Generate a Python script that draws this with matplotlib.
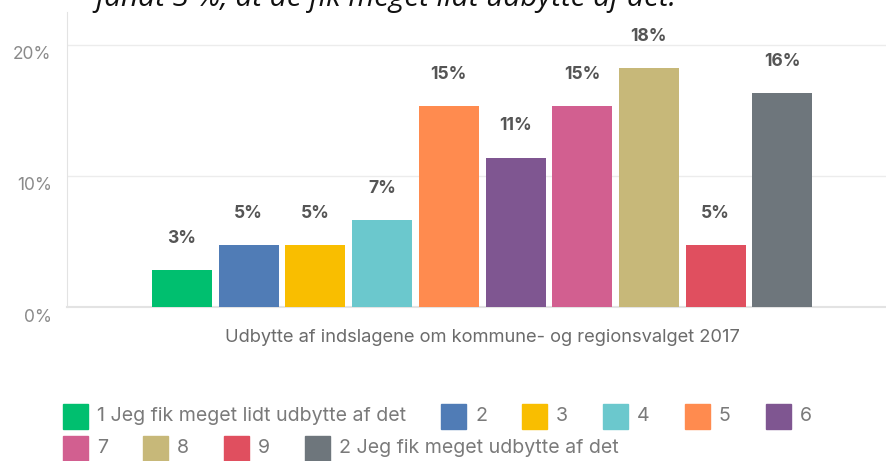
import numpy as np
import matplotlib
matplotlib.use("Agg")
import matplotlib.pyplot as plt
from matplotlib.patches import Rectangle
from matplotlib.transforms import ScaledTranslation

# Survey answers, scale 1-10
categories = ["1 Jeg fik meget lidt udbytte af det", "2", "3", "4", "5", "6",
              "7", "8", "9", "2 Jeg fik meget udbytte af det"]
shares = [2.8, 4.7, 4.7, 6.6, 15.3, 11.4, 15.3, 18.2, 4.7, 16.3]
colors = ["#00bf6f", "#507cb6", "#f9be00", "#6bc8cd", "#ff8b4f",
          "#7f5691", "#d25f90", "#c7b879", "#e04f5f", "#6e767c"]
yticks = [0, 10, 20]
ytick_labels = ["0%", "10%", "20%"]
xlabel = "Udbytte af indslagene om kommune- og regionsvalget 2017"
caption = "fandt 3 %, at de fik meget lidt udbytte af det."

W, H = 886, 461
plt.rcParams['font.family'] = ['Inter', 'DejaVu Sans']

fig = plt.figure(figsize=(W / 100, H / 100), dpi=100)
ax = fig.add_axes([67 / W, 1 - 307 / H, 1 - 67 / W, (307 - 12) / H])

x = np.arange(len(shares))
ax.bar(x, shares, width=0.9, color=colors, zorder=3)
for xi, v in zip(x, shares):
    ax.annotate(f"{v:.0f}%", (xi, v), xytext=(0, 23), textcoords="offset points",
                ha="center", va="center", fontsize=12.5, fontweight="bold",
                color="#555555")

ax.set_xlim(-1.725, 10.555)
ax.set_ylim(0, 22.5)
ax.set_xticks([])
ax.set_yticks(yticks)
ax.set_yticklabels(ytick_labels, fontsize=12.5, color="#8a8a8a")
ax.tick_params(axis="y", length=0, pad=11)
offset = ScaledTranslation(0, -8 / 100, fig.dpi_scale_trans)
for lab in ax.get_yticklabels():
    lab.set_transform(lab.get_transform() + offset)
ax.grid(axis="y", color="#ececec", linewidth=1, zorder=0)
for side in ["top", "right"]:
    ax.spines[side].set_visible(False)
ax.spines["left"].set_color("#e3e3e3")
ax.spines["bottom"].set_color("#e3e3e3")
ax.spines["bottom"].set_linewidth(1.5)

fig.text(482 / W, 1 - 338 / H, xlabel, ha="center", va="center",
         fontsize=13.2, color="#6b6b6b")

# caption line at the very top, only its lower part lies inside the figure
fig.text(95 / W, 1 - 6 / H, caption, ha="left", va="baseline", fontsize=21.3,
         style="italic", family=["Open Sans", "DejaVu Sans"], color="#111111")

# flowing legend
renderer = fig.canvas.get_renderer()
sq = 25
row_y = [416, 448]
lx, row = 63, 0
for name, c in zip(categories, colors):
    t = fig.text(0, 0, name, fontsize=14.1, color="#7a7a7a", ha="left", va="center")
    tw = t.get_window_extent(renderer).width
    if lx + sq + 9 + tw > 830:
        row += 1
        lx = 63
    cy = row_y[row]
    fig.patches.append(Rectangle((lx / W, 1 - (cy + sq / 2) / H), sq / W, sq / H,
                                 transform=fig.transFigure, color=c, figure=fig))
    t.set_position(((lx + sq + 9) / W, 1 - cy / H))
    lx += sq + 9 + tw + 35

fig.savefig("out.png", dpi=100)
